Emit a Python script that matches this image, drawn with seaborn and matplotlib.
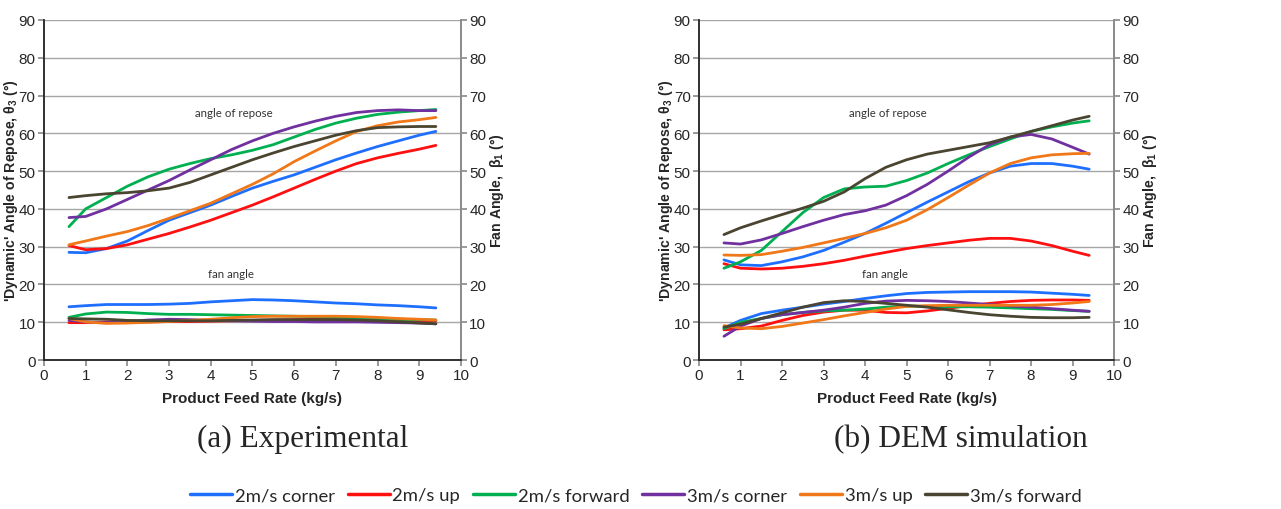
import numpy as np
import pandas as pd
import matplotlib.pyplot as plt
import seaborn as sns

# -----------------------------------------------------------------------------
# Data
# -----------------------------------------------------------------------------

feed_rate = [0.6, 1, 1.5, 2, 2.5, 3, 3.5, 4, 4.5, 5, 5.5, 6, 6.5, 7, 7.5, 8, 8.5, 9, 9.4]

series_names = ["2m/s corner", "2m/s up", "2m/s forward",
                "3m/s corner", "3m/s up", "3m/s forward"]

# (a) Experimental - angle of repose
exp_repose_2_corner = [28.5, 28.4, 29.5, 31.5, 34.3, 37, 39, 41, 43.3, 45.5, 47.3, 49, 51, 53, 54.8, 56.5, 58, 59.5, 60.5]
exp_repose_2_up = [30.3, 29.2, 29.5, 30.5, 32, 33.5, 35.2, 37, 39, 41, 43.2, 45.5, 47.8, 50, 52, 53.5, 54.7, 55.8, 56.8]
exp_repose_2_fwd = [35.3, 40, 43, 46, 48.5, 50.5, 52, 53.3, 54.3, 55.5, 57, 59, 61, 62.7, 64, 65, 65.6, 66, 66.3]
exp_repose_3_corner = [37.7, 38, 40, 42.5, 45, 47.5, 50.3, 53, 55.7, 58, 60, 61.7, 63.2, 64.5, 65.5, 66, 66.2, 66, 66]
exp_repose_3_up = [30.5, 31.5, 32.8, 34, 35.6, 37.5, 39.5, 41.5, 44, 46.5, 49.3, 52.5, 55.3, 58, 60.5, 62, 63, 63.6, 64.2]
exp_repose_3_fwd = [43, 43.5, 44, 44.3, 44.8, 45.5, 47, 49, 51, 53, 54.8, 56.5, 58, 59.5, 60.7, 61.5, 61.7, 61.8, 61.8]

# (a) Experimental - fan angle
exp_fan_2_corner = [14.1, 14.4, 14.7, 14.7, 14.7, 14.8, 15, 15.4, 15.7, 16, 15.9, 15.7, 15.4, 15.1, 14.9, 14.6, 14.4, 14.1, 13.8]
exp_fan_2_up = [9.9, 9.9, 10.1, 10.1, 10.1, 10.2, 10.2, 10.3, 10.4, 10.5, 10.6, 10.7, 10.8, 10.9, 10.8, 10.6, 10.5, 10.4, 10.4]
exp_fan_2_fwd = [11.3, 12.2, 12.7, 12.6, 12.3, 12.1, 12.1, 12, 11.9, 11.8, 11.7, 11.6, 11.5, 11.3, 11.2, 11, 10.8, 10.7, 10.6]
exp_fan_3_corner = [10.5, 10.1, 9.9, 10.2, 10.6, 10.8, 10.7, 10.5, 10.4, 10.3, 10.2, 10.2, 10.1, 10.1, 10.1, 10, 9.9, 9.8, 9.6]
exp_fan_3_up = [11, 10.1, 9.7, 9.8, 10, 10.2, 10.5, 10.8, 11.2, 11.5, 11.6, 11.6, 11.6, 11.6, 11.5, 11.3, 11, 10.8, 10.6]
exp_fan_3_fwd = [11, 10.9, 10.8, 10.5, 10.4, 10.4, 10.4, 10.4, 10.5, 10.6, 10.7, 10.7, 10.7, 10.7, 10.6, 10.4, 10.1, 9.8, 9.6]

# (b) DEM simulation - angle of repose
dem_repose_2_corner = [26.5, 25.2, 25, 26, 27.3, 29, 31.2, 33.5, 36.2, 39, 41.8, 44.5, 47.2, 49.5, 51.3, 52, 52, 51.3, 50.5]
dem_repose_2_up = [25.5, 24.3, 24.1, 24.3, 24.8, 25.5, 26.4, 27.5, 28.5, 29.5, 30.3, 31, 31.7, 32.2, 32.2, 31.5, 30.3, 28.8, 27.7]
dem_repose_2_fwd = [24.3, 26, 29, 34, 39, 43, 45.3, 45.8, 46, 47.5, 49.5, 52, 54.3, 56.5, 58.5, 60.5, 61.7, 62.7, 63.3]
dem_repose_3_corner = [31, 30.7, 31.8, 33.5, 35.3, 37, 38.5, 39.5, 41, 43.5, 46.5, 50, 53.7, 57, 59, 59.7, 58.5, 56.3, 54.5]
dem_repose_3_up = [27.8, 27.7, 27.9, 28.8, 29.8, 31, 32.2, 33.5, 35, 37, 39.8, 43, 46.3, 49.5, 52, 53.5, 54.3, 54.6, 54.7]
dem_repose_3_fwd = [33.2, 35, 36.8, 38.5, 40.2, 42, 44.5, 48, 51, 53, 54.5, 55.5, 56.5, 57.5, 59, 60.5, 62, 63.5, 64.5]

# (b) DEM simulation - fan angle
dem_fan_2_corner = [8.5, 10.5, 12.3, 13.2, 14, 14.8, 15.5, 16.3, 17, 17.6, 17.9, 18, 18.1, 18.1, 18.1, 18, 17.7, 17.4, 17.1]
dem_fan_2_up = [8.0, 8.3, 9, 10.5, 11.8, 12.7, 13.2, 13.2, 12.6, 12.5, 13, 13.7, 14.4, 15, 15.5, 15.8, 15.9, 15.9, 15.8]
dem_fan_2_fwd = [8.3, 10, 11, 12, 12.6, 13, 13.2, 13.5, 14, 14.3, 14.2, 14.1, 14.1, 14, 13.8, 13.6, 13.4, 13.1, 12.9]
dem_fan_3_corner = [6.3, 9, 11, 12, 12.6, 13.2, 14, 15, 15.6, 15.8, 15.7, 15.5, 15.1, 14.7, 14.3, 14, 13.6, 13.2, 12.9]
dem_fan_3_up = [9.1, 8.5, 8.3, 8.9, 9.8, 10.7, 11.7, 12.6, 13.5, 14.2, 14.4, 14.5, 14.5, 14.5, 14.5, 14.5, 14.7, 15.1, 15.5]
dem_fan_3_fwd = [8.7, 9.5, 11, 12.5, 14, 15.2, 15.7, 15.5, 15, 14.5, 14, 13.3, 12.6, 12, 11.6, 11.3, 11.2, 11.2, 11.3]

panel_titles = ["(a) Experimental", "(b) DEM simulation"]

colours = ["#1f6fff", "#ff1010", "#00b050", "#7030a0", "#f07818", "#4a4530"]


def long_form(repose, fan):
    rows = []
    for name, r, f in zip(series_names, repose, fan):
        rows.append(pd.DataFrame({"x": feed_rate, "y": r, "series": name, "kind": "repose"}))
        rows.append(pd.DataFrame({"x": feed_rate, "y": f, "series": name, "kind": "fan"}))
    return pd.concat(rows, ignore_index=True)


df_exp = long_form(
    [exp_repose_2_corner, exp_repose_2_up, exp_repose_2_fwd,
     exp_repose_3_corner, exp_repose_3_up, exp_repose_3_fwd],
    [exp_fan_2_corner, exp_fan_2_up, exp_fan_2_fwd,
     exp_fan_3_corner, exp_fan_3_up, exp_fan_3_fwd])
df_dem = long_form(
    [dem_repose_2_corner, dem_repose_2_up, dem_repose_2_fwd,
     dem_repose_3_corner, dem_repose_3_up, dem_repose_3_fwd],
    [dem_fan_2_corner, dem_fan_2_up, dem_fan_2_fwd,
     dem_fan_3_corner, dem_fan_3_up, dem_fan_3_fwd])

# -----------------------------------------------------------------------------
# Plot
# -----------------------------------------------------------------------------

sns.set_theme(style="white")
plt.rcParams["font.family"] = ["Liberation Sans", "DejaVu Sans"]
plt.rcParams["mathtext.default"] = "regular"

fig = plt.figure(figsize=(12.81, 5.10), dpi=100)
ax_l = fig.add_axes([0.0343, 0.292, 0.3255, 0.667])
ax_r = fig.add_axes([0.5457, 0.292, 0.324, 0.667])

grey = "#8c8c8c"

for ax, df, title, cap_x in zip([ax_l, ax_r], [df_exp, df_dem], panel_titles, [0.621, 0.631]):
    ax.grid(axis="y", color="#a6a6a6", lw=1)
    ax.set_axisbelow(True)
    sns.lineplot(x="x", y="y", data=df, hue="series", units="kind", estimator=None,
                 palette=colours, hue_order=series_names, lw=2, ax=ax, legend=False,
                 sort=False)
    ax.set_xlim(0, 10)
    ax.set_ylim(0, 90)
    ax.set_xticks(range(0, 11))
    ax.set_yticks(range(0, 91, 10))
    ax.set_xlabel("Product Feed Rate (kg/s)", fontsize=11, fontweight="bold", labelpad=6)
    ax.set_ylabel("'Dynamic' Angle of Repose, θ$_3$ (°)", fontsize=10.2,
                  fontweight="bold")
    ax.yaxis.set_label_coords(-0.058, 0.5)
    ax.tick_params(axis="both", labelsize=11, length=4, color=grey, direction="out",
                   pad=2, left=True, bottom=True)
    ax.spines["top"].set_visible(False)
    for side in ["left", "bottom", "right"]:
        ax.spines[side].set_color(grey)

    ax2 = ax.twinx()
    ax2.set_ylim(0, 90)
    ax2.set_yticks(range(0, 91, 10))
    ax2.tick_params(axis="y", labelsize=11, length=4, color=grey, direction="out", pad=2)
    ax2.spines["top"].set_visible(False)
    ax2.spines["right"].set_color(grey)
    ax2.set_ylabel("Fan Angle,  β$_1$ (°)", fontsize=10.2, fontweight="bold")
    ax2.yaxis.set_label_coords(1.065, 0.5)

    ax.text(4.55, 65.6, "angle of repose", ha="center", va="center", fontsize=8.3,
            family="Lato", color="#333333")
    ax.text(4.48, 23, "fan angle", ha="center", va="center", fontsize=8.3,
            family="Lato", color="#333333")

    ax.text(cap_x, -0.23, title, transform=ax.transAxes, ha="center", va="center",
            fontsize=22.5, family="Liberation Serif")

# Shared legend
handles = [plt.Line2D([], [], color=c, lw=2.5) for c in colours]
fig.legend(handles, series_names, loc="center", bbox_to_anchor=(0.4965, 0.027), ncol=6,
           frameon=False, handlelength=2.27, handletextpad=0.15,
           columnspacing=0.7, prop={"family": "Lato", "size": 13.3})

plt.savefig("out.png", dpi=100)
